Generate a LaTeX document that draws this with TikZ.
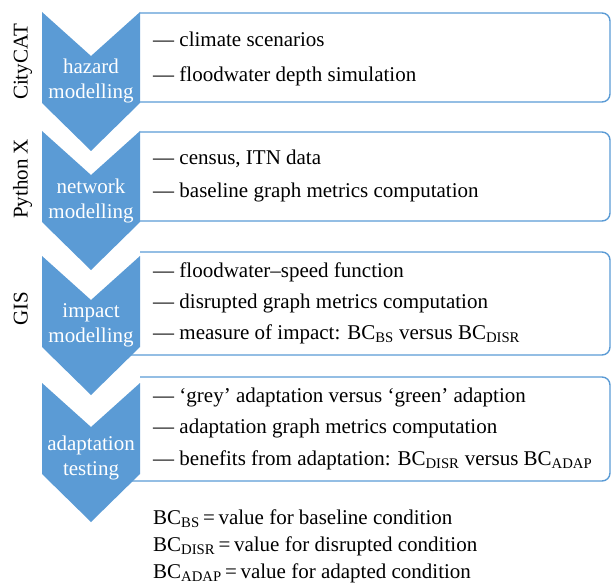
\documentclass[tikz,border=0pt]{standalone}
\usepackage{fontspec}
\setmainfont{LiberationSerif}[Extension=.ttf, UprightFont=*-Regular, BoldFont=*-Bold, ItalicFont=*-Italic]
\usepackage{tikz}
\usetikzlibrary{positioning}
\definecolor{chevblue}{HTML}{5B9BD5}

\tikzset{
  chev/.style={fill=chevblue, draw=none},
  stagebox/.style={draw=chevblue, line width=1.4pt, rounded corners=8pt},
  stagelabel/.style={text=white, align=center, inner sep=0pt},
  toollabel/.style={rotate=90, anchor=base, inner sep=0pt},
  item/.style={anchor=base west, inner sep=0pt},
}

% one chevron, #1 = its top edge
\newcommand{\chevshape}[1]{%
  \fill[chev] (42,#1) -- (91,#1+44) -- (140,#1) -- (140,#1+91) -- (91,#1+139) -- (42,#1+91) -- cycle;}

\begin{document}
\begin{tikzpicture}[x=1pt, y=-1pt, font=\fontsize{21}{25}\selectfont]
\useasboundingbox (0,0) rectangle (612,585);

% boxes behind the chevrons
\draw[stagebox] (140,13) -- (610,13) -- (610,102) -- (120,102);
\draw[stagebox] (140,132) -- (610,132) -- (610,221) -- (120,221);
\draw[stagebox] (140,252) -- (610,252) -- (610,355) -- (120,355);
\draw[stagebox] (140,377) -- (610,377) -- (610,481) -- (120,481);

\chevshape{12}
\chevshape{131}
\chevshape{256}
\chevshape{383}

\node (hazard) [stagelabel] at (91,80.6) {hazard\\modelling};
\node (network) [stagelabel] at (91,201.2) {network\\modelling};
\node (impact) [stagelabel] at (91,325.2) {impact\\modelling};
\node (adapt) [stagelabel] at (91,457.7) {adaptation\\testing};

\node (citycat) [toollabel] at (27.5,62) {CityCAT};
\node (python) [toollabel] at (27.5,179) {Python X};
\node (gis) [toollabel] at (27.5,309) {GIS};

\node (hazardA) [item] at (153,47) {— climate scenarios};
\node (hazardB) [item, below=35pt of hazardA.base west, anchor=base west] {— floodwater depth simulation};

\node (networkA) [item] at (153,165) {— census, ITN data};
\node (networkB) [item, below=33pt of networkA.base west, anchor=base west] {— baseline graph metrics computation};

\node (impactA) [item] at (153,277) {— floodwater–speed function};
\node (impactB) [item, below=31pt of impactA.base west, anchor=base west] {— disrupted graph metrics computation};
\node (impactC) [item, below=31pt of impactB.base west, anchor=base west] {— measure of impact: BC\textsubscript{BS} versus BC\textsubscript{DISR}};

\node (adaptA) [item] at (153,402) {— ‘grey’ adaptation versus ‘green’ adaption};
\node (adaptB) [item, below=31.5pt of adaptA.base west, anchor=base west] {— adaptation graph metrics computation};
\node (adaptC) [item, below=31.5pt of adaptB.base west, anchor=base west] {— benefits from adaptation: BC\textsubscript{DISR} versus BC\textsubscript{ADAP}};

% legend
\node (keyBS) [item] at (153,524) {BC\textsubscript{BS}\,=\,value for baseline condition};
\node (keyDISR) [item, below=27pt of keyBS.base west, anchor=base west] {BC\textsubscript{DISR}\,=\,value for disrupted condition};
\node (keyADAP) [item, below=27pt of keyDISR.base west, anchor=base west] {BC\textsubscript{ADAP}\,=\,value for adapted condition};
\end{tikzpicture}
\end{document}
